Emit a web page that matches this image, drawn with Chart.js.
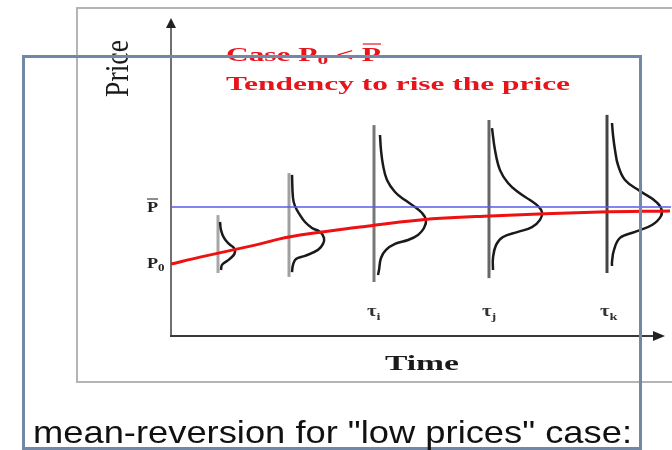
<!DOCTYPE html>
<html>
<head>
<meta charset="utf-8">
<script src="https://cdn.jsdelivr.net/npm/chart.js@4.4.1/dist/chart.umd.min.js"></script>
<style>
    body { margin: 0; background: #fff; }
    #wrap { position: relative; width: 672px; height: 450px; }
</style>
</head>
<body>
<div id="wrap"><canvas id="meanReversionChart"></canvas></div>
<script>
// Mean reversion sketch: time on x, price on y (arbitrary units 0-100)

const meanPrice = 43;   // P bar, long-run level

// expected price path starting at P0
const pathTime = [0, 5.8, 16.8, 23.6, 37.8, 49.8, 63.8, 85.8, 99.8];
const pathPrice = [24, 26.3, 30.3, 33, 36.3, 38.7, 40, 41.3, 41.7];

// vertical stems that carry the price distributions
const stemTimes = [9.4, 23.6, 40.6, 63.6, 87.2];
const stemLow = [21, 19.7, 18, 19.3, 21];
const stemHigh = [40.3, 54.3, 70.3, 72, 73.7];
const stemColors = ['#a6a6a6', '#a0a0a0', '#777777', '#666666', '#444444'];

// subscripts of the time labels under the last three stems
const timeLabels = ['i', 'j', 'k'];

// distribution outlines (time, price)
const dist1Time = [9.8, 10, 10.6, 11.6, 12.6, 12.8, 12.4, 11.2, 10.2, 10];
const dist1Price = [38, 35.3, 32.7, 30.7, 29.3, 28, 26.7, 25, 23.7, 22];

const dist2Time = [24.2, 24.4, 24.8, 25.8, 26.8, 28.2, 29.8, 30.6, 30.4, 29.4, 26.8, 25, 24.4, 24.2];
const dist2Price = [53.7, 46, 43.3, 40.3, 38, 36, 34.7, 32.7, 30.7, 28.7, 26.7, 25.7, 23.7, 21.3];

const dist3Time = [41.8, 42, 42.4, 43.2, 44.8, 46.8, 48.8, 50.2, 51, 50.6, 49.4, 47.4, 44.8, 43, 42, 41.6, 41.4];
const dist3Price = [67, 62, 57, 52, 48, 45.3, 43, 41, 38.7, 36, 33.7, 32, 30.7, 28.7, 26, 22, 20.3];

const dist4Time = [64.2, 64.8, 65.8, 67.4, 69.4, 71.8, 73.4, 74.2, 73.8, 72.2, 69.4, 66.4, 65, 64.4, 64.4];
const dist4Price = [69.3, 62, 55.3, 51, 48, 45.3, 43.3, 41.3, 38.7, 36.3, 34.7, 33, 30.3, 26, 22];

const dist5Time = [88.2, 88.4, 88.8, 89.4, 90.8, 93.8, 96.6, 98, 98, 96.2, 92.8, 89.8, 88.6, 88.2, 88.2];
const dist5Price = [71, 67, 62, 57, 52, 48.3, 45.3, 42.7, 40, 37, 34.7, 32.7, 28.7, 24.7, 23.3];

function toPoints(xs, ys) {
    return xs.map((x, i) => ({ x: x, y: ys[i] }));
}

// draws text squeezed/stretched horizontally, returns drawn width
function drawText(ctx, text, x, y, font, sx, color) {
    ctx.save();
    ctx.font = font;
    ctx.fillStyle = color;
    ctx.textAlign = 'left';
    ctx.textBaseline = 'alphabetic';
    ctx.translate(x, y);
    ctx.scale(sx, 1);
    ctx.fillText(text, 0, 0);
    const w = ctx.measureText(text).width * sx;
    ctx.restore();
    return w;
}

function fitScale(ctx, text, font, width) {
    ctx.save();
    ctx.font = font;
    const w = ctx.measureText(text).width;
    ctx.restore();
    return width / w;
}

const SERIF = '"Liberation Serif", "Times New Roman", serif';
const RED = '#e8141c';

const figurePlugin = {
    id: 'figure',
    beforeDraw(chart) {
        const ctx = chart.ctx;
        ctx.save();
        ctx.fillStyle = '#fff';
        ctx.fillRect(0, 0, chart.width, chart.height);
        // frame of the pasted figure
        ctx.strokeStyle = '#b4b4b4';
        ctx.lineWidth = 2;
        ctx.strokeRect(77, 8, 660, 374);
        ctx.restore();
    },
    beforeDatasetsDraw(chart) {
        const { ctx, scales: { x, y } } = chart;
        const x0 = x.getPixelForValue(0);
        const y0 = y.getPixelForValue(0);
        const yTop = y.getPixelForValue(106);
        const xEnd = x.getPixelForValue(98.8);
        ctx.save();
        ctx.lineWidth = 2;
        ctx.strokeStyle = '#707070';
        ctx.beginPath();
        ctx.moveTo(x0, y0 + 1);
        ctx.lineTo(x0, yTop + 8);
        ctx.stroke();
        ctx.fillStyle = '#222';
        ctx.beginPath();
        ctx.moveTo(x0, yTop);
        ctx.lineTo(x0 - 5, yTop + 10);
        ctx.lineTo(x0 + 5, yTop + 10);
        ctx.closePath();
        ctx.fill();
        ctx.strokeStyle = '#3a3a3a';
        ctx.beginPath();
        ctx.moveTo(x0 - 1, y0);
        ctx.lineTo(xEnd - 8, y0);
        ctx.stroke();
        ctx.beginPath();
        ctx.moveTo(xEnd, y0);
        ctx.lineTo(xEnd - 12, y0 - 5);
        ctx.lineTo(xEnd - 12, y0 + 5);
        ctx.closePath();
        ctx.fill();
        ctx.restore();
    },
    afterDatasetsDraw(chart) {
        const { ctx, scales: { x, y } } = chart;
        const x0 = x.getPixelForValue(0);

        // y axis title, rotated
        ctx.save();
        ctx.translate(128, 97);
        ctx.rotate(-Math.PI / 2);
        ctx.scale(1, 1.3);
        const pf = '26px ' + SERIF;
        const ps = fitScale(ctx, 'Price', pf, 57);
        drawText(ctx, 'Price', 0, 0, pf, ps, '#1a1a1a');
        ctx.restore();

        // P bar and P0 on the y axis
        const pb = 'bold 14px ' + SERIF;
        const yBar = y.getPixelForValue(meanPrice);
        const wP = drawText(ctx, 'P', x0 - 24, yBar + 5, pb, 1.3, '#222');
        ctx.save();
        ctx.strokeStyle = '#444';
        ctx.lineWidth = 1.2;
        ctx.beginPath();
        ctx.moveTo(x0 - 24, yBar - 8);
        ctx.lineTo(x0 - 24 + wP, yBar - 8);
        ctx.stroke();
        ctx.restore();
        const yP0 = y.getPixelForValue(pathPrice[0]);
        const wP0 = drawText(ctx, 'P', x0 - 24, yP0 + 4, pb, 1.3, '#222');
        drawText(ctx, '0', x0 - 24 + wP0, yP0 + 7, 'bold 10px ' + SERIF, 1.3, '#222');

        // red headline
        const tf = 'bold 19px ' + SERIF;
        const line2 = 'Tendency to rise the price';
        const ts = fitScale(ctx, line2, tf, 344);
        let cx = 226;
        cx += drawText(ctx, 'Case P', cx, 61, tf, ts, RED);
        cx += drawText(ctx, '0', cx, 64, 'bold 13px ' + SERIF, ts, RED);
        cx += drawText(ctx, ' < ', cx, 61, tf, ts, RED);
        const wPb = drawText(ctx, 'P', cx, 61, tf, ts, RED);
        ctx.save();
        ctx.strokeStyle = RED;
        ctx.lineWidth = 1.2;
        ctx.beginPath();
        ctx.moveTo(cx + 1, 44);
        ctx.lineTo(cx + wPb, 44);
        ctx.stroke();
        ctx.restore();
        drawText(ctx, line2, 226, 90, tf, ts, RED);

        // time labels under the stems
        const lf = 'bold 16px ' + SERIF;
        timeLabels.forEach((sub, i) => {
            const sx = x.getPixelForValue(stemTimes[i + 2]) - 7;
            const w = drawText(ctx, 'τ', sx, 316, lf, 1.3, '#333');
            drawText(ctx, sub, sx + w, 320, 'bold 11px ' + SERIF, 1.3, '#333');
        });

        // x axis title
        const xf = 'bold 22px ' + SERIF;
        drawText(ctx, 'Time', 385, 370, xf, fitScale(ctx, 'Time', xf, 74), '#1a1a1a');
    },
    afterDraw(chart) {
        const ctx = chart.ctx;
        ctx.save();
        ctx.strokeStyle = '#7189a7';
        ctx.lineWidth = 3;
        ctx.strokeRect(23.5, 56.5, 617, 392);
        ctx.restore();
        const cf = '32px "Liberation Sans", Arial, sans-serif';
        const caption = 'mean-reversion for "low prices" case:';
        drawText(ctx, caption, 33, 443, cf, fitScale(ctx, caption, cf, 599), '#111');
    }
};

function initMeanReversionChart() {
    const ctx = document.getElementById('meanReversionChart');
    if (!ctx) return;

    const distributions = [
        toPoints(dist1Time, dist1Price),
        toPoints(dist2Time, dist2Price),
        toPoints(dist3Time, dist3Price),
        toPoints(dist4Time, dist4Price),
        toPoints(dist5Time, dist5Price)
    ];

    const datasets = [{
        label: 'Expected price',
        data: toPoints(pathTime, pathPrice),
        borderColor: '#ee1111',
        borderWidth: 3,
        tension: 0.4,
        order: 0
    }, {
        label: 'Mean price',
        data: [{ x: 0, y: meanPrice }, { x: 100, y: meanPrice }],
        borderColor: '#5a5af0',
        borderWidth: 1.5,
        order: 1
    }];

    distributions.forEach((pts, i) => {
        datasets.push({
            label: 'Distribution ' + (i + 1),
            data: pts,
            borderColor: '#1a1a1a',
            borderWidth: 2.5,
            tension: 0.4,
            order: 2
        });
        datasets.push({
            label: 'Stem ' + (i + 1),
            data: [{ x: stemTimes[i], y: stemLow[i] }, { x: stemTimes[i], y: stemHigh[i] }],
            borderColor: stemColors[i],
            borderWidth: 3,
            order: 3
        });
    });

    new Chart(ctx, {
        type: 'scatter',
        data: { datasets: datasets.map(d => Object.assign({ showLine: true, pointRadius: 0, fill: false }, d)) },
        options: {
            responsive: true,
            maintainAspectRatio: false,
            animation: false,
            layout: {
                padding: { left: 171, right: 1, top: 36, bottom: 114 }
            },
            scales: {
                x: { type: 'linear', min: 0, max: 100, display: false },
                y: { type: 'linear', min: 0, max: 100, display: false }
            },
            plugins: {
                legend: { display: false },
                tooltip: { enabled: false }
            }
        },
        plugins: [figurePlugin]
    });
}

initMeanReversionChart();
</script>
</body>
</html>
